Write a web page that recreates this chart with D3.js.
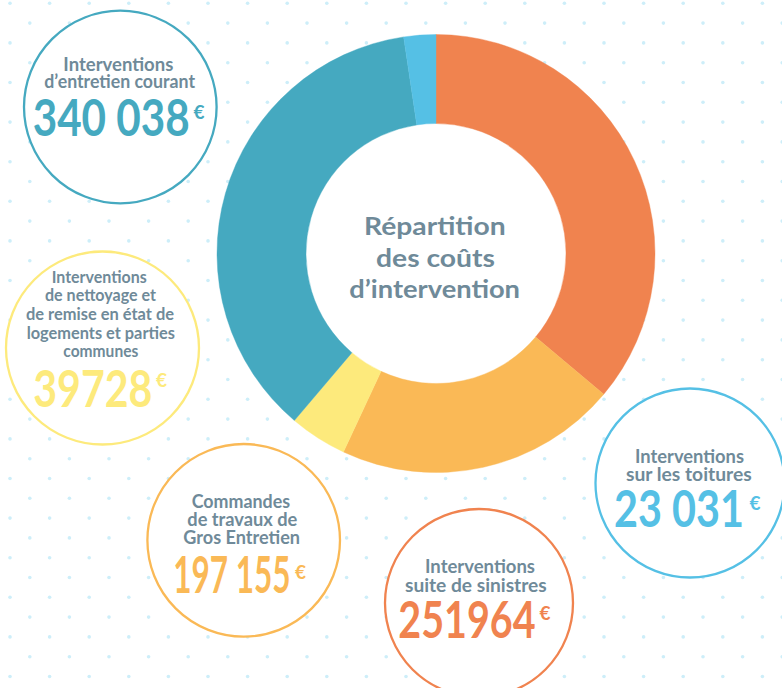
<!DOCTYPE html>
<html><head><meta charset="utf-8">
<script src="https://cdn.jsdelivr.net/npm/d3@7"></script>
<style>html,body{margin:0;padding:0;background:#fff;}svg{display:block;}</style>
</head><body>
<svg id="c" width="782" height="688"></svg>
<script>
// ---- data ----
const categories = [
  "Interventions suite de sinistres",
  "Commandes de travaux de Gros Entretien",
  "Interventions de nettoyage et de remise en état de logements et parties communes",
  "Interventions d'entretien courant",
  "Interventions sur les toitures"
];
const amounts = [251964, 197155, 39728, 340038, 23031];
const amountLabels = ["251964", "197 155", "39728", "340 038", "23 031"];
// slice sizes as drawn in the infographic (degrees)
const sliceDegrees = [130, 75, 15.3, 131.2, 8.5];
const labelLines = [
  ["Interventions", "suite de sinistres"],
  ["Commandes", "de travaux de", "Gros Entretien"],
  ["Interventions", "de nettoyage et", "de remise en état de", "logements et parties", "communes"],
  ["Interventions", "d’entretien courant"],
  ["Interventions", "sur les toitures"]
];
const colors = ["#f0834f", "#fab956", "#fdea7c", "#45a9c0", "#55c0e5"];
const titleLines = ["Répartition", "des coûts", "d’intervention"];

// ---- layout (not data) ----
const W = 782, H = 688;
const textColor = "#6f8a99";
const cx = 436, cy = 253.5, R = 219, r0 = 130;
const bubbles = [
  {cx:479, cy:603, r:94,   lines:[[425,535,573.3],[405,546.7,591.7]], fs:19, num:[398.3,535.5,638.3], eur:[539.5,620]},
  {cx:243.7, cy:540.3, r:96.3, lines:[[191.7,290,508.3],[187.3,297.3,526],[183.3,300,544.3]], fs:19, num:[173.3,290.5,593.3], eur:[295,579]},
  {cx:102.5, cy:348, r:96.5, lines:[[51.7,146.7,283.3],[45,156,300.5],[26,174,320],[26.7,175,338.5],[63.3,138.3,357.3]], fs:17, num:[33.3,152.3,406.7], eur:[156,386.7]},
  {cx:120.3, cy:107, r:96.3, lines:[[63.3,173.3,70.7],[44.3,195,88.3]], fs:19, num:[32.7,189.7,135.7], eur:[193.5,119]},
  {cx:690, cy:483, r:94.5, lines:[[635,744,463.3],[626,751.7,480.7]], fs:19, num:[614,744,527.3], eur:[749.5,510]}
];
const fontFam = "Lato, 'DejaVu Sans', sans-serif";

const svg = d3.select("#c");
svg.append("rect").attr("width", W).attr("height", H).attr("fill", "#fff");

// dotted background
const sp = 39.6;
const dots = [];
for (let y = 3.3; y < H + 5; y += sp) for (let x = 10; x < W + 5; x += sp) dots.push([x, y]);
for (let y = 23.1; y < H + 5; y += sp) for (let x = 29.8; x < W + 5; x += sp) dots.push([x, y]);
svg.append("g").selectAll("circle").data(dots).join("circle")
  .attr("cx", d => d[0]).attr("cy", d => d[1]).attr("r", 1.8).attr("fill", "#cdeef9");

// donut
const pie = d3.pie().sort(null).value(d => d)
  .startAngle(0).endAngle(2 * Math.PI);
const arc = d3.arc().innerRadius(r0).outerRadius(R);
const g = svg.append("g").attr("transform", `translate(${cx},${cy})`);
g.append("circle").attr("r", r0).attr("fill", "#fff");
g.selectAll("path").data(pie(sliceDegrees)).join("path")
  .attr("d", arc).attr("fill", (d, i) => colors[i])
  .attr("stroke", (d, i) => colors[i]).attr("stroke-width", 0.4);

// center title
const titleY = [235, 267.3, 298.3];
const titleX = [[364, 505.7], [376, 495], [349.3, 520]];
svg.append("g").selectAll("text").data(titleLines).join("text")
  .attr("x", (d, i) => titleX[i][0]).attr("y", (d, i) => titleY[i])
  .attr("textLength", (d, i) => titleX[i][1] - titleX[i][0])
  .attr("lengthAdjust", "spacingAndGlyphs")
  .attr("font-family", fontFam).attr("font-weight", 700).attr("font-size", 25)
  .attr("fill", textColor).text(d => d);

// bubbles
bubbles.forEach((b, i) => {
  const bg = svg.append("g");
  bg.append("circle").attr("cx", b.cx).attr("cy", b.cy).attr("r", b.r)
    .attr("fill", "#fff").attr("stroke", colors[i]).attr("stroke-width", 2.3);
  labelLines[i].forEach((t, j) => {
    const L = b.lines[j];
    bg.append("text").attr("x", L[0]).attr("y", L[2])
      .attr("textLength", L[1] - L[0]).attr("lengthAdjust", "spacingAndGlyphs")
      .attr("font-family", fontFam).attr("font-weight", 700).attr("font-size", b.fs)
      .attr("fill", textColor).text(t);
  });
  bg.append("text").attr("x", b.num[0]).attr("y", b.num[2])
    .attr("textLength", b.num[1] - b.num[0]).attr("lengthAdjust", "spacingAndGlyphs")
    .attr("font-family", fontFam).attr("font-weight", 700).attr("font-size", 51)
    .attr("fill", colors[i]).text(amountLabels[i]);
  bg.append("text").attr("x", b.eur[0]).attr("y", b.eur[1])
    .attr("font-family", fontFam).attr("font-weight", 700).attr("font-size", 19)
    .attr("fill", colors[i]).text("€");
});
</script>
</body></html>
